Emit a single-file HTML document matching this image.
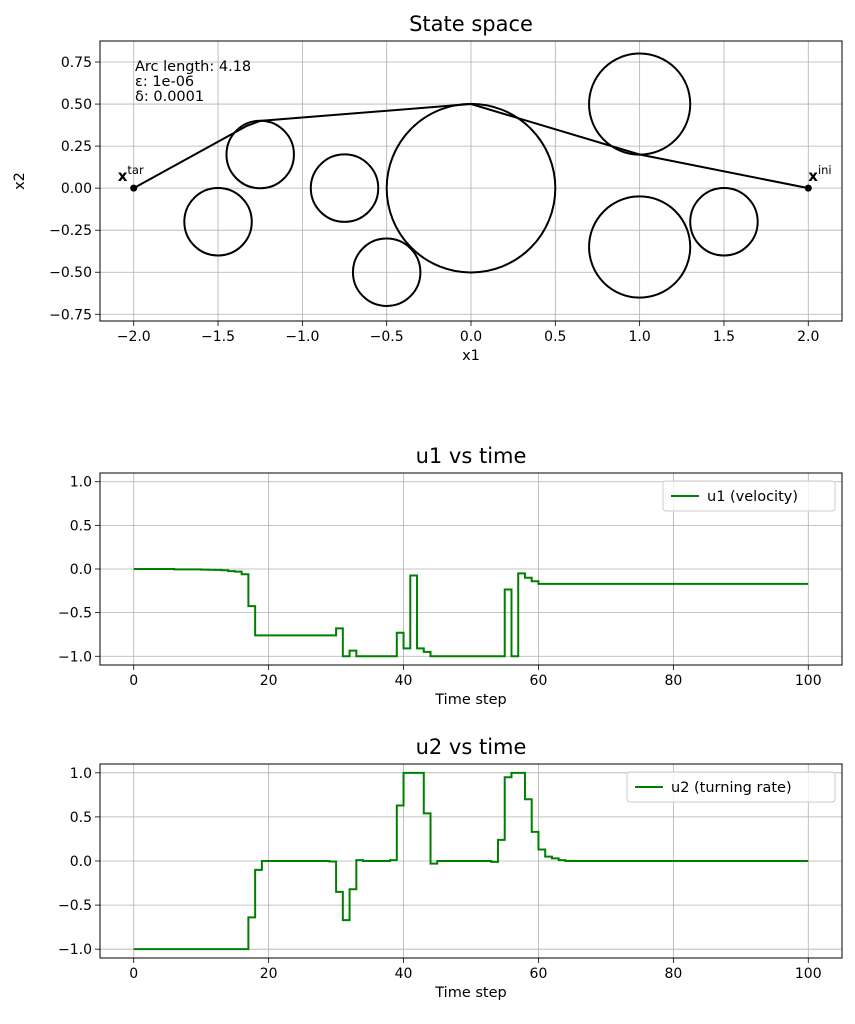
<!DOCTYPE html>
<html><head><meta charset="utf-8"><style>
body{margin:0;background:#fff}
svg{display:block;font-family:"DejaVu Sans","Liberation Sans",sans-serif}
</style></head><body>
<svg id="fig" width="855" height="1024" viewBox="0 0 855 1024" xmlns="http://www.w3.org/2000/svg"></svg>
<script>
// ---- data ----
const pathX=[-2,-1.33,-1.25,0,1,2];
const pathY=[0,0.37,0.4,0.5,0.2,0];
const circX=[-1.5,-1.25,-0.75,-0.5,0,1,1,1.5];
const circY=[-0.2,0.2,0,-0.5,0,0.5,-0.35,-0.2];
const circR=[0.2,0.2,0.2,0.2,0.5,0.3,0.3,0.2];
const ssXTicks=[-2.0,-1.5,-1.0,-0.5,0.0,0.5,1.0,1.5,2.0];
const ssYTicks=[-0.75,-0.5,-0.25,0,0.25,0.5,0.75];
const tXTicks=[0,20,40,60,80,100];
const tYTicks=[-1.0,-0.5,0.0,0.5,1.0];
const u1=[0,0,0,0,0,0,-0.005,-0.005,-0.005,-0.005,-0.007,-0.008,-0.01,-0.015,-0.025,-0.03,-0.06,-0.425,-0.76,-0.76,
-0.76,-0.76,-0.76,-0.76,-0.76,-0.76,-0.76,-0.76,-0.76,-0.76,-0.68,-1.0,-0.935,-1.0,-1.0,-1.0,-1.0,-1.0,-1.0,-0.73,
-0.91,-0.075,-0.91,-0.95,-1.0,-1.0,-1.0,-1.0,-1.0,-1.0,-1.0,-1.0,-1.0,-1.0,-1.0,-0.235,-1.0,-0.05,-0.1,-0.14,
-0.17,-0.17,-0.17,-0.17,-0.17,-0.17,-0.17,-0.17,-0.17,-0.17,-0.17,-0.17,-0.17,-0.17,-0.17,-0.17,-0.17,-0.17,-0.17,-0.17,
-0.17,-0.17,-0.17,-0.17,-0.17,-0.17,-0.17,-0.17,-0.17,-0.17,-0.17,-0.17,-0.17,-0.17,-0.17,-0.17,-0.17,-0.17,-0.17,-0.17,-0.17];
const u2=[-1,-1,-1,-1,-1,-1,-1,-1,-1,-1,-1,-1,-1,-1,-1,-1,-1,-0.64,-0.1,0,
0,0,0,0,0,0,0,0,0,-0.005,-0.35,-0.67,-0.32,0.01,0,0,0,0,0.01,0.63,
1.0,1.0,1.0,0.54,-0.03,0,0,0,0,0,0,0,0,-0.01,0.24,0.95,1.0,1.0,0.70,0.33,
0.13,0.05,0.03,0.01,0,0,0,0,0,0,0,0,0,0,0,0,0,0,0,0,
0,0,0,0,0,0,0,0,0,0,0,0,0,0,0,0,0,0,0,0,0];
// ---- helpers ----
const svg=document.getElementById('fig');const NS='http://www.w3.org/2000/svg';
function mk(tag,attrs,parent,txt){const e=document.createElementNS(NS,tag);for(const k in attrs)e.setAttribute(k,attrs[k]);if(txt!==undefined)e.textContent=txt;(parent||svg).appendChild(e);return e;}
function axes(name,L,T,R,B,xmin,xmax,ymin,ymax,xt,yt,xfmt,yfmt,title,xlabel,ylabel){
  const g=mk('g',{});
  
  
  const sx=v=>L+(v-xmin)/(xmax-xmin)*(R-L), sy=v=>B-(v-ymin)/(ymax-ymin)*(B-T);
  xt.forEach(v=>{const x=sx(v);
    const l=mk('line',{x1:x,x2:x,y1:T,y2:B,stroke:'#b0b0b0','stroke-width':0.8},g);
    mk('line',{x1:x,x2:x,y1:B,y2:B+5,stroke:'#000','stroke-width':0.8},g);
    const t=mk('text',{x:x,y:B+20,'text-anchor':'middle','font-size':14},g,xfmt(v));});
  yt.forEach(v=>{const y=sy(v);
    const l=mk('line',{x1:L,x2:R,y1:y,y2:y,stroke:'#b0b0b0','stroke-width':0.8},g);
    mk('line',{x1:L-5,x2:L,y1:y,y2:y,stroke:'#000','stroke-width':0.8},g);
    const t=mk('text',{x:L-8,y:y+5,'text-anchor':'end','font-size':14},g,yfmt(v));});
  const tt=mk('text',{x:(L+R)/2,y:T-10,'text-anchor':'middle','font-size':21},g,title);
  const xl=mk('text',{x:(L+R)/2,y:B+39,'text-anchor':'middle','font-size':14.5},g,xlabel);
  if(ylabel){const yl=mk('text',{x:0,y:0,'text-anchor':'middle','font-size':14.5,transform:`translate(${L-76},${(T+B)/2}) rotate(-90)`},g,ylabel);}
  return {g,sx,sy,frame:()=>{const f=mk('rect',{x:L,y:T,width:R-L,height:B-T,fill:'none',stroke:'#000','stroke-width':1},g);}};
}
const f2=v=>v.toFixed(2).replace('-','\u2212'), f1=v=>v.toFixed(1).replace('-','\u2212'), f0=v=>String(v);
// ---- state space ----
const A=axes('state-space-axes',100,41,842,321,-2.2,2.2,-0.79,0.875,ssXTicks,ssYTicks,f1,f2,'State space','x1','x2');
circX.forEach((cx,i)=>{const c=mk('circle',{cx:A.sx(cx),cy:A.sy(circY[i]),r:A.sx(circR[i])-A.sx(0),fill:'none',stroke:'#000','stroke-width':2},A.g);
  });
const pp=mk('polyline',{points:pathX.map((x,i)=>A.sx(x)+','+A.sy(pathY[i])).join(' '),fill:'none',stroke:'#000','stroke-width':2},A.g);

[[pathX[0],pathY[0],'tar',-16],[pathX[pathX.length-1],pathY[pathY.length-1],'ini',0]].forEach(p=>{
  const d=mk('circle',{cx:A.sx(p[0]),cy:A.sy(p[1]),r:3.5,fill:'#000'},A.g);
  const t=mk('text',{x:A.sx(p[0])+p[3],y:A.sy(p[1])-7,'font-size':15,'font-weight':'bold'},A.g,'x');
  mk('tspan',{dy:-7,'font-size':11.5,'font-weight':'normal'},t,p[2]);});
['Arc length: 4.18','\u03b5: 1e-06','\u03b4: 0.0001'].forEach((s,i)=>{const t=mk('text',{x:135,y:71+i*15,'font-size':14.5},A.g,s);});
A.frame();
// ---- time plots ----
function stepPath(sx,sy,vals){let d='';for(let k=0;k<vals.length;k++){const x0=sx(k),y=sy(vals[k]);d+=(k===0?'M':'L')+x0+','+y;if(k<vals.length-1)d+='L'+sx(k+1)+','+y;}return d;}
function tplot(name,T,B,vals,title,leg,legW){
  const P=axes(name,100,T,842,B,-5,105,-1.1,1.1,tXTicks,tYTicks,f0,f1,title,'Time step',null);
  const p=mk('path',{d:stepPath(P.sx,P.sy,vals),fill:'none',stroke:'#008000','stroke-width':2},P.g);
  
  const lg=mk('g',{},P.g);
  const lx=842-7-legW,ly=T+8;
  mk('rect',{x:lx,y:ly,width:legW,height:30,rx:3,fill:'#fff','fill-opacity':0.8,stroke:'#ccc'},lg);
  mk('line',{x1:lx+8,x2:lx+36,y1:ly+15,y2:ly+15,stroke:'#008000','stroke-width':2},lg);
  const t=mk('text',{x:lx+44,y:ly+20,'font-size':14.5},lg,leg);
  P.frame();
}
tplot('u1-axes',473,665,u1,'u1 vs time','u1 (velocity)',172);
tplot('u2-axes',764,958,u2,'u2 vs time','u2 (turning rate)',208);
</script>
</body></html>
